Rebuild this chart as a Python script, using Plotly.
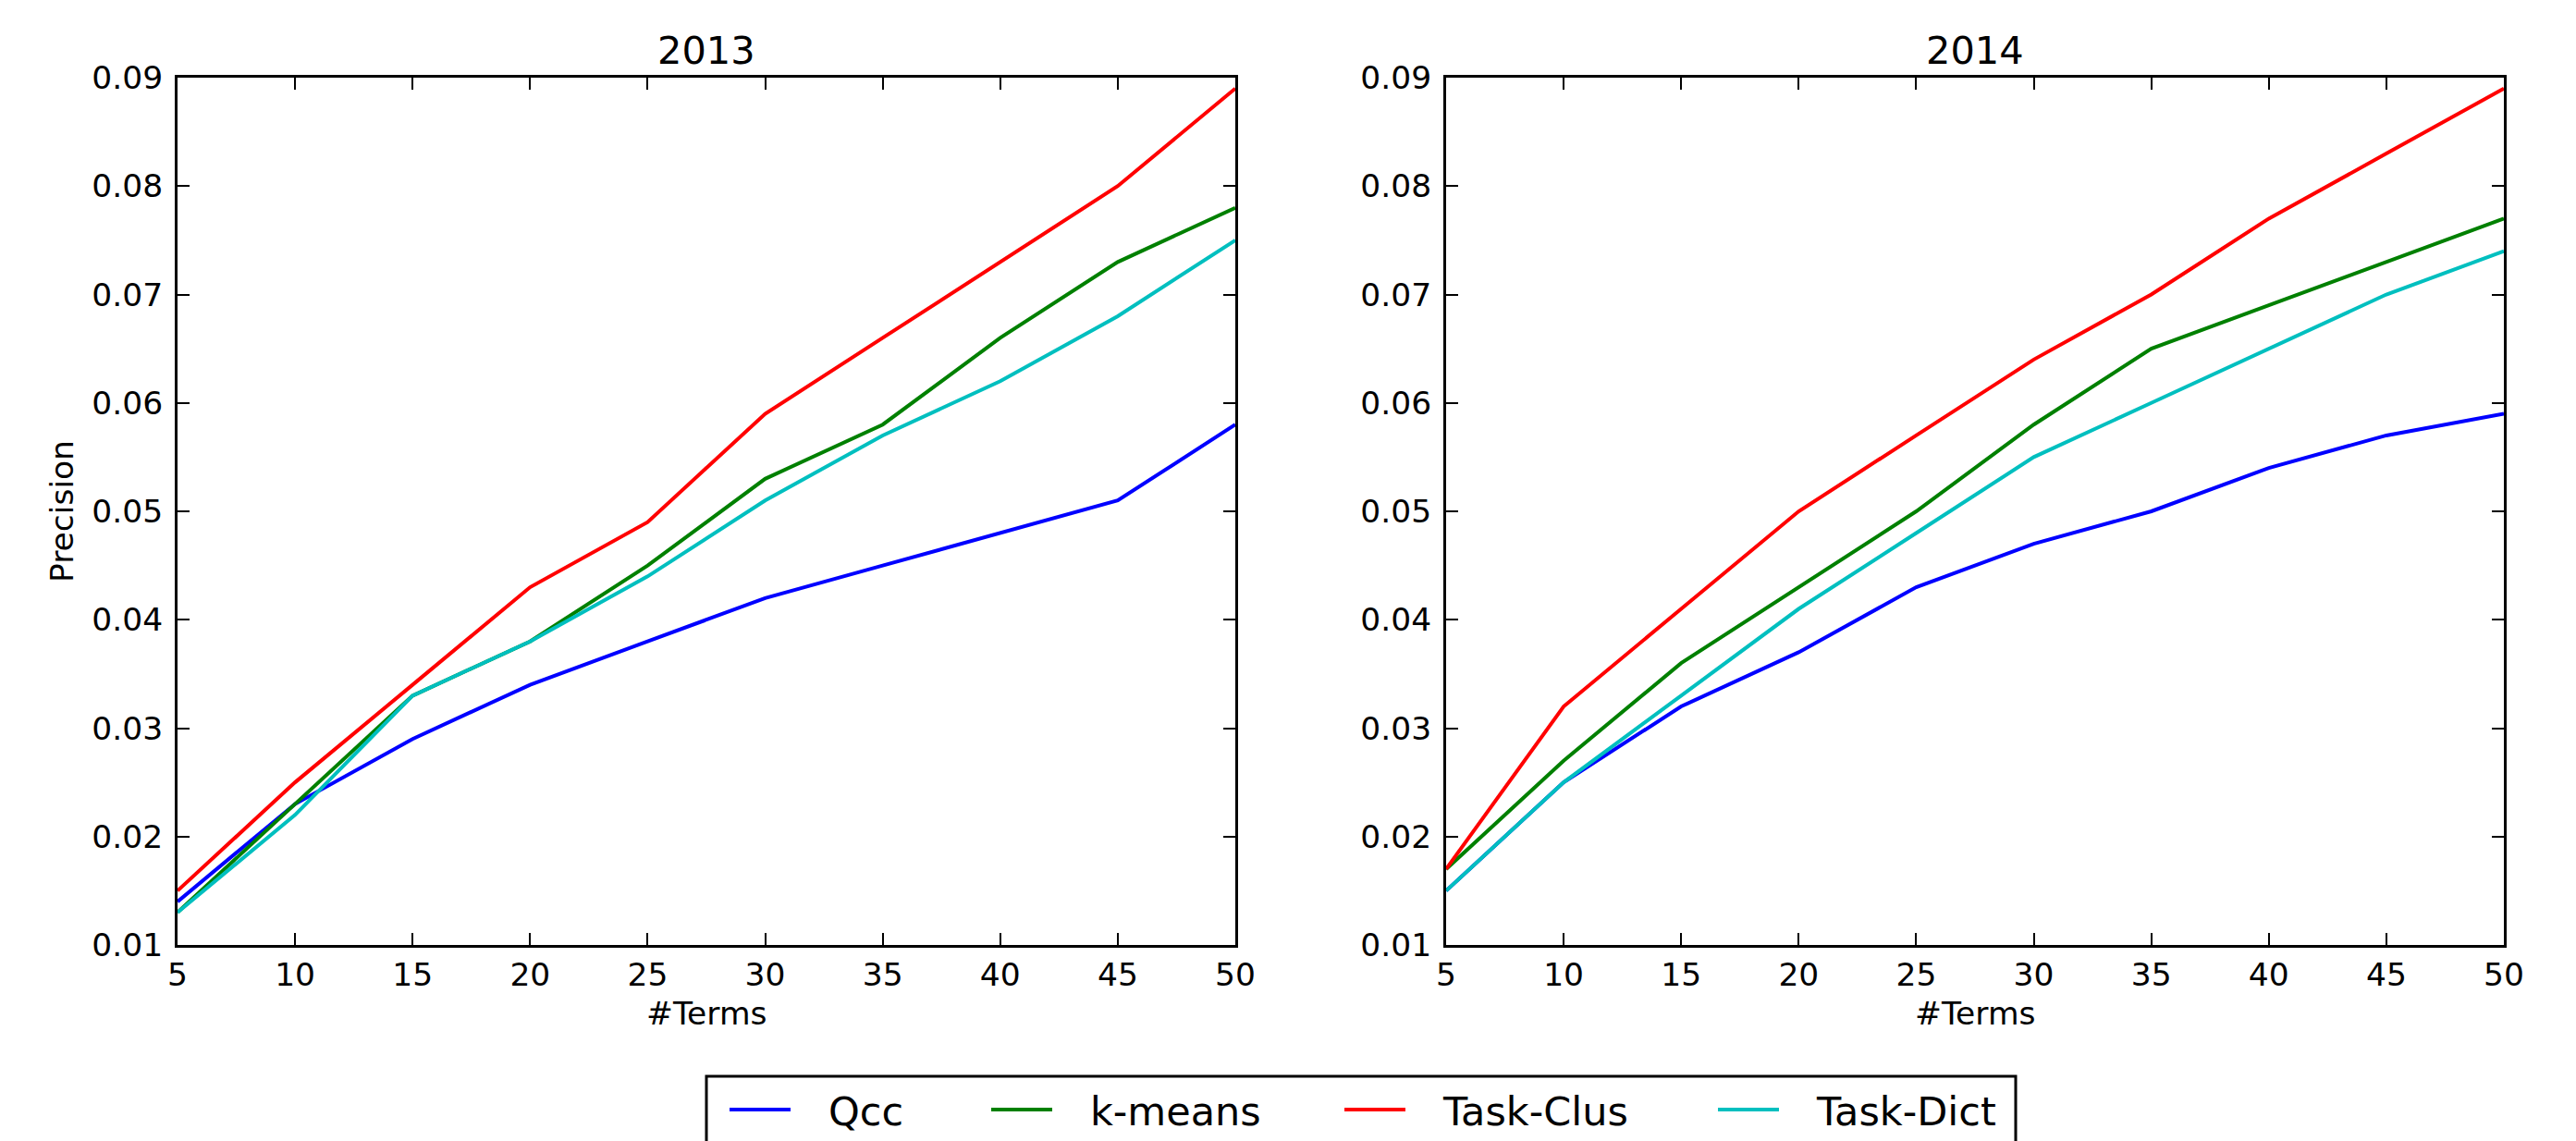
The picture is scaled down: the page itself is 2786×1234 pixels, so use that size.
import plotly.graph_objects as go

terms = [5, 10, 15, 20, 25, 30, 35, 40, 45, 50]
series_names = ["Qcc", "k-means", "Task-Clus", "Task-Dict"]
series_colors = ["#0000ff", "#008000", "#ff0000", "#00bfbf"]

p2013_qcc = [0.014, 0.023, 0.029, 0.034, 0.038, 0.042, 0.045, 0.048, 0.051, 0.058]
p2013_kmeans = [0.013, 0.023, 0.033, 0.038, 0.045, 0.053, 0.058, 0.066, 0.073, 0.078]
p2013_taskclus = [0.015, 0.025, 0.034, 0.043, 0.049, 0.059, 0.066, 0.073, 0.080, 0.089]
p2013_taskdict = [0.013, 0.022, 0.033, 0.038, 0.044, 0.051, 0.057, 0.062, 0.068, 0.075]

p2014_qcc = [0.015, 0.025, 0.032, 0.037, 0.043, 0.047, 0.050, 0.054, 0.057, 0.059]
p2014_kmeans = [0.017, 0.027, 0.036, 0.043, 0.050, 0.058, 0.065, 0.069, 0.073, 0.077]
p2014_taskclus = [0.017, 0.032, 0.041, 0.050, 0.057, 0.064, 0.070, 0.077, 0.083, 0.089]
p2014_taskdict = [0.015, 0.025, 0.033, 0.041, 0.048, 0.055, 0.060, 0.065, 0.070, 0.074]

x_ticks = [5, 10, 15, 20, 25, 30, 35, 40, 45, 50]
y_ticks = [0.01, 0.02, 0.03, 0.04, 0.05, 0.06, 0.07, 0.08, 0.09]
y_tick_labels = ["0.01", "0.02", "0.03", "0.04", "0.05", "0.06", "0.07", "0.08", "0.09"]

W, H = 2786, 1234
OFF = 8  # default page body margin
FONT = "DejaVu Sans"
TICK_SIZE = 34.5
LEGEND_SIZE = 43
TITLE_SIZE = 41.5
LINE_W = 4

data2013 = [p2013_qcc, p2013_kmeans, p2013_taskclus, p2013_taskdict]
data2014 = [p2014_qcc, p2014_kmeans, p2014_taskclus, p2014_taskdict]
legend_ids = ["legend", "legend2", "legend3", "legend4"]
legend_handle_x = [792, 1075, 1457, 1861]
NB = "\u00a0\u00a0\u2009"

fig = go.Figure()
for i, (name, col) in enumerate(zip(series_names, series_colors)):
    fig.add_trace(go.Scatter(x=terms, y=data2013[i], mode="lines", name=NB + name,
                             line=dict(color=col, width=LINE_W), xaxis="x", yaxis="y",
                             legend=legend_ids[i], showlegend=True))
for i, (name, col) in enumerate(zip(series_names, series_colors)):
    fig.add_trace(go.Scatter(x=terms, y=data2014[i], mode="lines", name=name,
                             line=dict(color=col, width=LINE_W), xaxis="x2", yaxis="y2",
                             showlegend=False))

px = lambda v: (v - OFF) / W
py = lambda v: 1 - (v - OFF) / H

y_bot, y_top = py(1022), py(84)

common_x = dict(range=[5, 50], tickvals=x_ticks, ticks="inside", ticklen=13, tickwidth=2,
                tickcolor="black", showline=True, linecolor="black", linewidth=3,
                mirror="allticks", showgrid=False, zeroline=False, automargin=False,
                tickfont=dict(family=FONT, size=TICK_SIZE, color="black"))
common_y = dict(range=[0.01, 0.09], tickvals=y_ticks, ticktext=y_tick_labels,
                ticks="inside", ticklen=13, tickwidth=2, ticklabelstandoff=6,
                tickcolor="black", showline=True, linecolor="black", linewidth=3,
                mirror="allticks", showgrid=False, zeroline=False, automargin=False,
                tickfont=dict(family=FONT, size=TICK_SIZE, color="black"))

layout = dict(
    width=W, height=H,
    margin=dict(l=0, r=0, t=0, b=0, autoexpand=False),
    paper_bgcolor="white", plot_bgcolor="white",
    font=dict(family=FONT, color="black"),
    xaxis=dict(domain=[px(192), px(1336)], anchor="y", **common_x),
    yaxis=dict(domain=[y_bot, y_top], anchor="x", **common_y),
    xaxis2=dict(domain=[px(1564), px(2708)], anchor="y2", **common_x),
    yaxis2=dict(domain=[y_bot, y_top], anchor="x2", **common_y),
    showlegend=True,
)
for lid, hx in zip(legend_ids, legend_handle_x):
    layout[lid] = dict(orientation="h", x=px(hx - 8), y=py(1200), xanchor="left", yanchor="middle",
                       borderwidth=0, bgcolor="rgba(0,0,0,0)",
                       font=dict(family=FONT, size=LEGEND_SIZE, color="black"),
                       itemwidth=66)
fig.update_layout(**layout)

# legend frame
fig.add_shape(type="rect", xref="paper", yref="paper", x0=px(764), x1=px(2180),
              y0=py(1270), y1=py(1164), line=dict(color="black", width=3),
              fillcolor="rgba(0,0,0,0)", layer="below")

ann = [
    dict(text="2013", x=(px(192) + px(1336)) / 2, y=py(55), xref="paper", yref="paper",
         showarrow=False, font=dict(family=FONT, size=TITLE_SIZE, color="black"),
         xanchor="center", yanchor="middle"),
    dict(text="2014", x=(px(1564) + px(2708)) / 2, y=py(55), xref="paper", yref="paper",
         showarrow=False, font=dict(family=FONT, size=TITLE_SIZE, color="black"),
         xanchor="center", yanchor="middle"),
    dict(text="#Terms", x=(px(192) + px(1336)) / 2, y=py(1096), xref="paper", yref="paper",
         showarrow=False, font=dict(family=FONT, size=TICK_SIZE, color="black"),
         xanchor="center", yanchor="middle"),
    dict(text="#Terms", x=(px(1564) + px(2708)) / 2, y=py(1096), xref="paper", yref="paper",
         showarrow=False, font=dict(family=FONT, size=TICK_SIZE, color="black"),
         xanchor="center", yanchor="middle"),
    dict(text="Precision", x=px(67), y=py(553), xref="paper", yref="paper", textangle=-90,
         showarrow=False, font=dict(family=FONT, size=TICK_SIZE, color="black"),
         xanchor="center", yanchor="middle"),
]
fig.update_layout(annotations=ann)

fig.write_html("out.html")
